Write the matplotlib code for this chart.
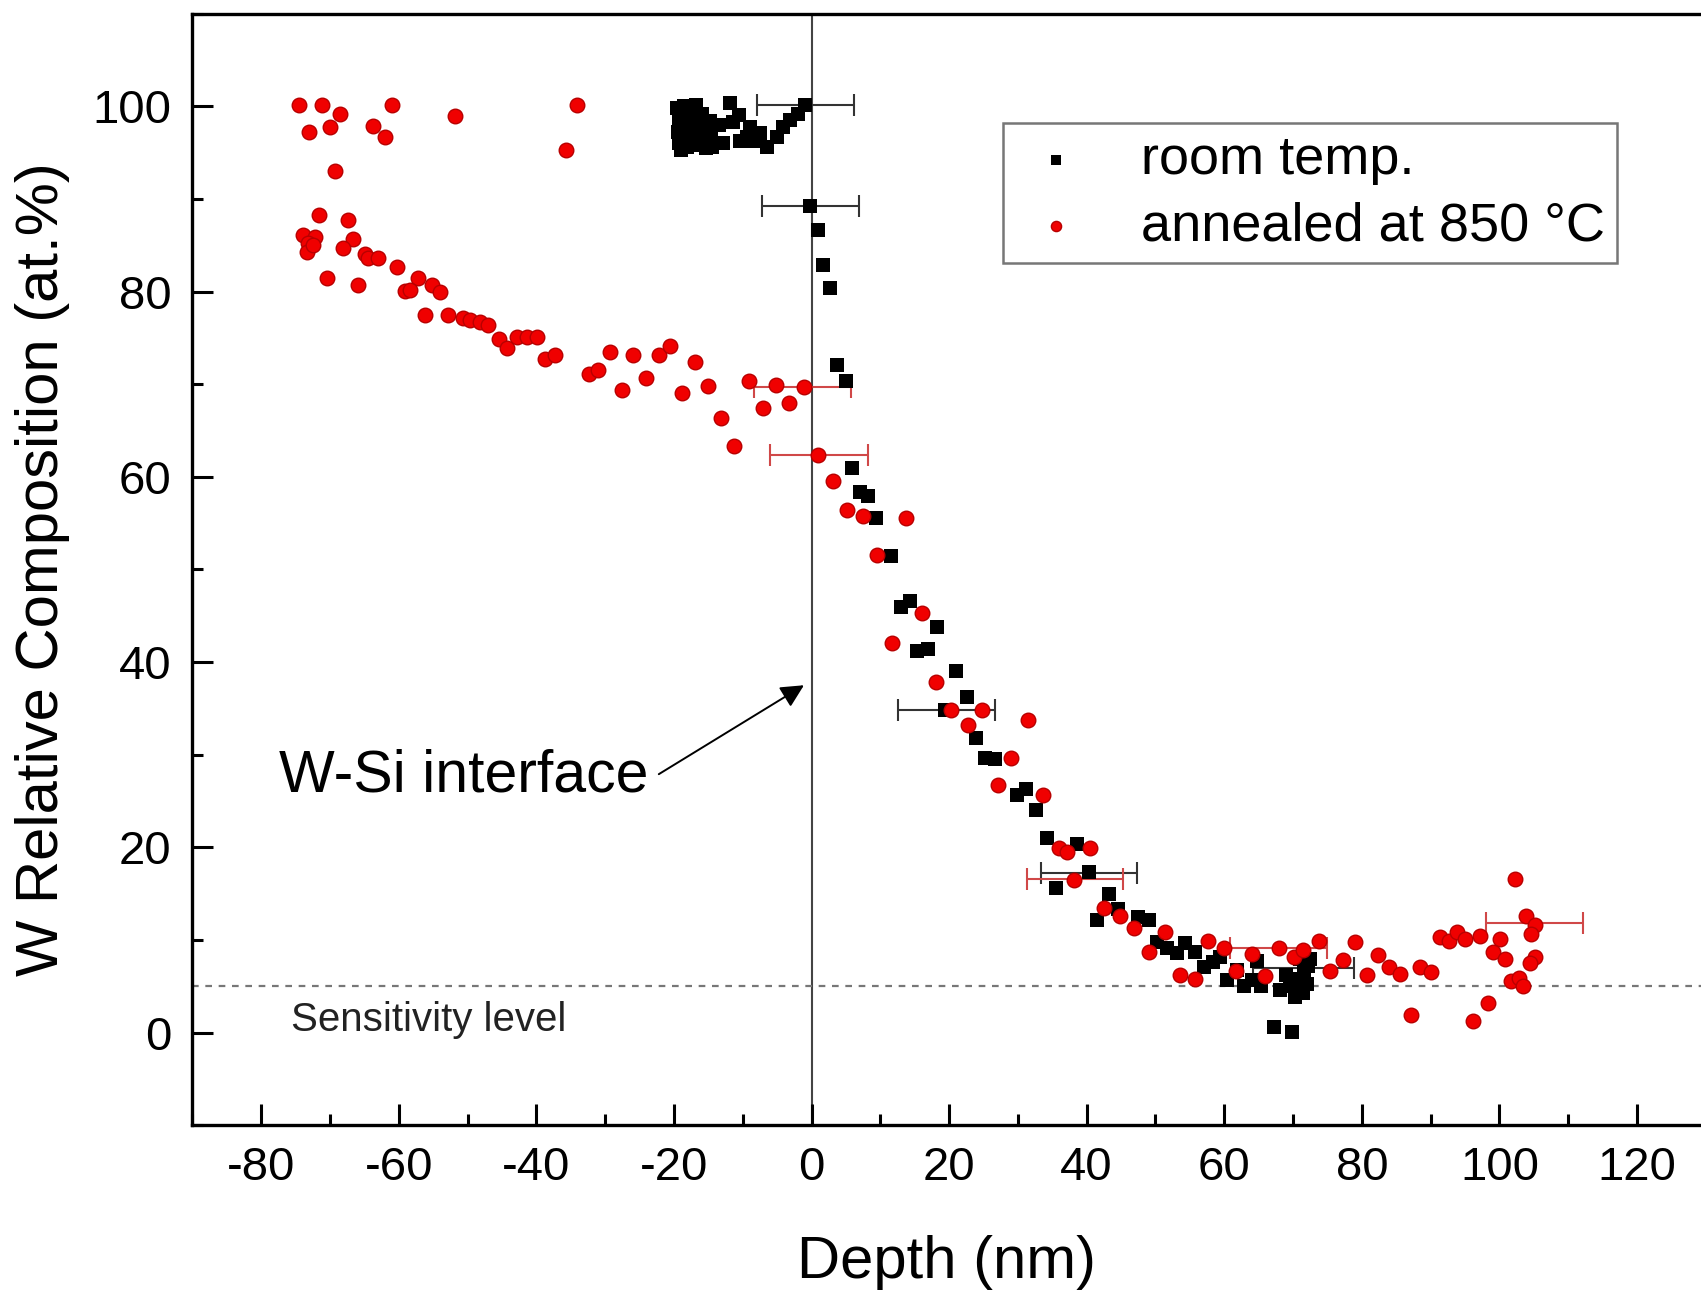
import matplotlib
matplotlib.use("Agg")
import matplotlib.pyplot as plt
from matplotlib.ticker import MultipleLocator

plt.rcParams['font.family'] = ['Liberation Sans', 'DejaVu Sans']
plt.rcParams['axes.unicode_minus'] = False

# ---------------- data ----------------
room_x = [-19.5, -19.3, -19.4, -19.2, -19.0, -18.6, -18.4, -18.5, -18.3, -18.1,
          -17.6, -17.4, -17.5, -17.2, -16.8, -16.6, -16.5, -16.3, -15.9, -15.7,
          -15.5, -15.3, -14.8, -14.6, -14.4, -14.4, -13.5, -12.8, -11.8, -11.4,
          -10.6, -10.4, -9.4, -8.9, -8.4, -7.5, -6.5, -5.0, -4.1, -3.1, -1.9, -0.9,
          -0.2, 1.0, 1.6, 2.7, 3.7, 5.0, 5.9, 7.0, 8.2, 9.4, 11.5, 13.0, 14.3,
          18.2, 15.3, 17.0, 21.0, 22.6, 19.4, 23.9, 25.2, 26.7, 29.8, 31.2, 32.7,
          34.2, 38.6, 40.3, 35.6, 43.2, 41.5, 44.6, 47.5, 49.0, 50.2, 51.7, 53.1,
          54.3, 55.8, 57.0, 58.4, 59.4, 60.4, 61.8, 62.8, 64.0, 65.4, 64.7,
          68.1, 69.6, 70.6, 71.6, 71.4, 72.1, 72.5, 70.3, 69.0, 71.0, 72.0,
          67.2, 69.8]
room_y = [99.8, 98.5, 97.2, 96.0, 95.3, 100.0, 98.9, 97.6, 96.4, 95.6,
          99.6, 98.2, 97.0, 95.8, 100.1, 98.7, 97.4, 96.2, 99.2, 97.9,
          96.8, 95.5, 98.4, 97.1, 96.0, 95.6, 98.0, 96.0, 100.3, 98.3,
          99.1, 96.2, 96.7, 97.8, 96.2, 97.1, 95.6, 96.7, 97.8, 98.5, 99.2, 100.1,
          89.2, 86.6, 82.9, 80.4, 72.1, 70.3, 61.0, 58.4, 57.9, 55.5, 51.5, 45.9, 46.6,
          43.8, 41.2, 41.4, 39.0, 36.2, 34.8, 31.8, 29.7, 29.5, 25.7, 26.3, 24.0,
          21.0, 20.4, 17.3, 15.6, 15.0, 12.2, 13.3, 12.5, 12.2, 9.8, 9.1, 8.6,
          9.7, 8.7, 7.1, 7.6, 8.2, 5.7, 6.8, 5.0, 5.7, 5.0, 7.7,
          4.6, 5.0, 5.8, 6.5, 4.3, 7.2, 7.9, 3.9, 6.2, 8.0, 5.2,
          0.65, 0.1]

annealed_x = [-74.5, -71.1, -68.6, -70.0, -73.1, -61.0, -63.7, -62.0, -51.8, -34.1,
              -35.7, -69.3, -71.6, -67.4, -73.9, -72.2, -73.2, -73.4, -72.5, -66.6,
              -68.1, -64.9, -64.4, -63.0, -60.2, -70.5, -65.9, -57.2, -59.1, -58.4,
              -55.2, -54.0, -56.2, -52.9, -50.6, -49.6, -48.2, -47.0, -45.5, -44.3,
              -42.8, -41.4, -39.9, -38.7, -37.3, -32.4, -31.0, -29.3, -27.5, -25.9,
              -24.1, -22.2, -20.6, -18.8, -16.9, -15.0, -13.1, -11.2, -9.1, -7.1,
              -5.2, -3.3, -1.1, 1.0, 3.1, 5.2, 7.5, 9.5, 13.75, 16.0,
              11.7, 18.1, 20.3, 24.8, 31.4, 22.7, 29.0, 27.1, 33.7, 36.0,
              37.2, 40.5, 38.2, 42.5, 44.8, 46.9, 51.4, 49.1, 57.7, 59.9,
              53.6, 55.8, 61.7, 64.0, 65.9, 67.9, 70.1, 71.5, 73.7, 75.4,
              77.3, 79.0, 80.7, 82.4, 84.0, 85.6, 87.2, 88.5, 90.0, 91.4,
              92.6, 93.8, 95.0, 97.2, 96.1, 98.3, 100.1, 99.1, 100.8, 101.7,
              102.8, 103.4, 102.2, 103.9, 105.2, 104.6, 105.2, 104.5]
annealed_y = [100.1, 100.1, 99.2, 97.8, 97.2, 100.1, 97.9, 96.7, 98.9, 100.1,
              95.3, 93.0, 88.3, 87.7, 86.1, 85.9, 85.2, 84.3, 85.0, 85.7,
              84.7, 84.1, 83.6, 83.6, 82.7, 81.5, 80.7, 81.5, 80.1, 80.2,
              80.7, 80.0, 77.5, 77.5, 77.1, 76.9, 76.7, 76.4, 74.9, 73.9,
              75.1, 75.1, 75.1, 72.7, 73.2, 71.1, 71.5, 73.5, 69.4, 73.2,
              70.7, 73.2, 74.1, 69.1, 72.4, 69.8, 66.4, 63.3, 70.3, 67.4,
              69.9, 68.0, 69.7, 62.4, 59.5, 56.4, 55.8, 51.6, 55.5, 45.3,
              42.1, 37.8, 34.8, 34.8, 33.8, 33.2, 29.6, 26.7, 25.6, 19.9,
              19.5, 19.9, 16.5, 13.5, 12.6, 11.3, 10.9, 8.7, 9.9, 9.1,
              6.2, 5.8, 6.6, 8.5, 6.1, 9.1, 8.2, 8.9, 9.9, 6.7,
              7.8, 9.8, 6.2, 8.4, 7.1, 6.3, 1.9, 7.1, 6.5, 10.3,
              9.9, 10.9, 10.1, 10.4, 1.3, 3.2, 10.1, 8.7, 8.0, 5.6,
              5.9, 5.0, 16.6, 12.6, 11.6, 10.7, 8.2, 7.5]

# error bars (depth uncertainty)
room_err_x = [-0.9, -0.2, 19.6, 40.3, 71.5]
room_err_y = [100.1, 89.2, 34.8, 17.2, 7.0]
room_err_dx = [7.05, 7.05, 7.05, 7.0, 7.3]
ann_err_x = [-1.3, 1.1, 38.3, 67.9, 105.1]
ann_err_y = [69.7, 62.4, 16.6, 9.1, 11.8]
ann_err_dx = [7.1, 7.1, 7.0, 7.0, 7.0]

sensitivity = 5
x_ticks = [-80, -60, -40, -20, 0, 20, 40, 60, 80, 100, 120]
y_ticks = [0, 20, 40, 60, 80, 100]

# ---------------- figure ----------------
fig = plt.figure(figsize=(17.01, 12.97), dpi=100)
ax = fig.add_axes([0.1131, 0.1324, 0.8869, 0.8571])
ax.set_xlim(-90, 129.3)
ax.set_ylim(-10, 110)

ax.axvline(0, color='#444444', lw=1.5, zorder=1)
ax.axhline(sensitivity, color='#777777', lw=1.6, ls=(0, (3, 3)), zorder=1)

ax.errorbar(room_err_x, room_err_y, xerr=room_err_dx, fmt='none', ecolor='#333333',
            elinewidth=1.5, capsize=8, capthick=1.5, zorder=2)
ax.errorbar(ann_err_x, ann_err_y, xerr=ann_err_dx, fmt='none', ecolor='#d04848',
            elinewidth=1.5, capsize=8, capthick=1.5, zorder=2)

ax.scatter(room_x, room_y, marker='s', s=90, color='black', linewidths=0,
           label='room temp.', zorder=3)
ax.scatter(annealed_x, annealed_y, marker='o', s=110, facecolor='#f00000',
           edgecolor='#b80000', linewidths=1.0, label='annealed at 850 °C', zorder=4)

ax.annotate('', xy=(-1.1, 37.5), xytext=(-22.2, 27.9),
            arrowprops=dict(arrowstyle='-|>', color='black', lw=1.4,
                            mutation_scale=35, shrinkA=0, shrinkB=0))
ax.text(-77.4, 27.75, 'W-Si interface', fontsize=42.5, va='center', ha='left')
ax.text(-75.7, 1.4, 'Sensitivity level', fontsize=29, va='center', ha='left',
        color='#222222')

ax.set_xticks(x_ticks)
ax.set_yticks(y_ticks)
ax.xaxis.set_minor_locator(MultipleLocator(10))
ax.yaxis.set_minor_locator(MultipleLocator(10))
ax.tick_params(which='major', direction='in', length=15, width=2.2,
               labelsize=34, pad=15, top=False, right=False)
ax.tick_params(which='minor', direction='in', length=8, width=2.2,
               top=False, right=False)
for side in ['left', 'bottom', 'top']:
    ax.spines[side].set_linewidth(2.4)
ax.spines['right'].set_visible(False)

ax.set_xlabel('Depth (nm)', fontsize=43, labelpad=32)
ax.set_ylabel('W Relative Composition (at.%)', fontsize=43, labelpad=16)

leg = ax.legend(loc='upper left', bbox_to_anchor=(0.5897, 0.9052),
                bbox_transform=fig.transFigure, fontsize=39, markerscale=0.7,
                frameon=True, fancybox=False, borderpad=0.22, labelspacing=0.3,
                handlelength=1.5, handletextpad=0.82, borderaxespad=0,
                scatterpoints=1)
leg.get_frame().set_edgecolor('#555555')
leg.get_frame().set_linewidth(1.8)

fig.savefig('out.png', dpi=100)
